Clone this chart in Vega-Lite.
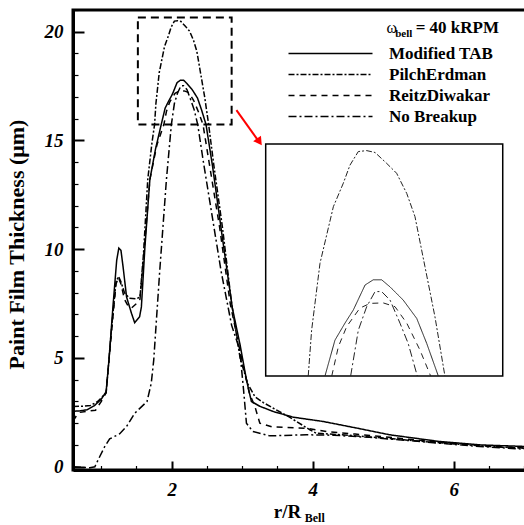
{
  "$schema": "https://vega.github.io/schema/vega-lite/v6.json",
  "width": 453,
  "height": 460,
  "autosize": {"type": "none"},
  "padding": {"left": 73, "top": 10, "right": 0, "bottom": 55},
  "background": "white",
  "config": {"view": {"stroke": "black", "strokeWidth": 3}, "font": "Liberation Serif"},
  "datasets": {
    "curves": [
      {"model": "Modified TAB", "x": 0.6, "y": 2.55}, {"model": "Modified TAB", "x": 0.7, "y": 2.57}, {"model": "Modified TAB", "x": 0.8, "y": 2.62}, {"model": "Modified TAB", "x": 0.9, "y": 2.8}, {"model": "Modified TAB", "x": 1.0, "y": 3.1}, {"model": "Modified TAB", "x": 1.07, "y": 3.45}, {"model": "Modified TAB", "x": 1.11, "y": 4.9}, {"model": "Modified TAB", "x": 1.17, "y": 7.5}, {"model": "Modified TAB", "x": 1.22, "y": 9.5}, {"model": "Modified TAB", "x": 1.25, "y": 10.05}, {"model": "Modified TAB", "x": 1.28, "y": 9.95}, {"model": "Modified TAB", "x": 1.31, "y": 9.2}, {"model": "Modified TAB", "x": 1.36, "y": 7.8}, {"model": "Modified TAB", "x": 1.43, "y": 7.05}, {"model": "Modified TAB", "x": 1.475, "y": 6.62}, {"model": "Modified TAB", "x": 1.545, "y": 6.9}, {"model": "Modified TAB", "x": 1.57, "y": 7.35}, {"model": "Modified TAB", "x": 1.62, "y": 10.1}, {"model": "Modified TAB", "x": 1.69, "y": 13.2}, {"model": "Modified TAB", "x": 1.77, "y": 14.6}, {"model": "Modified TAB", "x": 1.851, "y": 15.73}, {"model": "Modified TAB", "x": 1.907, "y": 16.49}, {"model": "Modified TAB", "x": 1.963, "y": 16.85}, {"model": "Modified TAB", "x": 2.01, "y": 17.13}, {"model": "Modified TAB", "x": 2.076, "y": 17.66}, {"model": "Modified TAB", "x": 2.122, "y": 17.77}, {"model": "Modified TAB", "x": 2.169, "y": 17.77}, {"model": "Modified TAB", "x": 2.216, "y": 17.62}, {"model": "Modified TAB", "x": 2.29, "y": 17.34}, {"model": "Modified TAB", "x": 2.366, "y": 16.95}, {"model": "Modified TAB", "x": 2.422, "y": 16.42}, {"model": "Modified TAB", "x": 2.487, "y": 15.73}, {"model": "Modified TAB", "x": 2.58, "y": 13.8}, {"model": "Modified TAB", "x": 2.72, "y": 10.5}, {"model": "Modified TAB", "x": 2.86, "y": 7.3}, {"model": "Modified TAB", "x": 2.97, "y": 5.6}, {"model": "Modified TAB", "x": 3.06, "y": 4.0}, {"model": "Modified TAB", "x": 3.13, "y": 3.0}, {"model": "Modified TAB", "x": 3.25, "y": 2.78}, {"model": "Modified TAB", "x": 3.44, "y": 2.54}, {"model": "Modified TAB", "x": 3.72, "y": 2.28}, {"model": "Modified TAB", "x": 4.15, "y": 2.08}, {"model": "Modified TAB", "x": 4.62, "y": 1.78}, {"model": "Modified TAB", "x": 5.09, "y": 1.47}, {"model": "Modified TAB", "x": 5.8, "y": 1.16}, {"model": "Modified TAB", "x": 6.4, "y": 1.0}, {"model": "Modified TAB", "x": 7.03, "y": 0.93},
      {"model": "PilchErdman", "x": 0.6, "y": 2.77}, {"model": "PilchErdman", "x": 0.75, "y": 2.78}, {"model": "PilchErdman", "x": 0.85, "y": 2.82}, {"model": "PilchErdman", "x": 0.95, "y": 3.0}, {"model": "PilchErdman", "x": 1.07, "y": 3.4}, {"model": "PilchErdman", "x": 1.15, "y": 6.5}, {"model": "PilchErdman", "x": 1.21, "y": 8.5}, {"model": "PilchErdman", "x": 1.245, "y": 8.75}, {"model": "PilchErdman", "x": 1.28, "y": 8.5}, {"model": "PilchErdman", "x": 1.33, "y": 8.0}, {"model": "PilchErdman", "x": 1.4, "y": 7.75}, {"model": "PilchErdman", "x": 1.5, "y": 7.72}, {"model": "PilchErdman", "x": 1.55, "y": 7.8}, {"model": "PilchErdman", "x": 1.6, "y": 9.8}, {"model": "PilchErdman", "x": 1.66, "y": 13.2}, {"model": "PilchErdman", "x": 1.72, "y": 14.9}, {"model": "PilchErdman", "x": 1.757, "y": 15.73}, {"model": "PilchErdman", "x": 1.776, "y": 16.7}, {"model": "PilchErdman", "x": 1.823, "y": 18.12}, {"model": "PilchErdman", "x": 1.898, "y": 19.32}, {"model": "PilchErdman", "x": 1.954, "y": 19.82}, {"model": "PilchErdman", "x": 1.991, "y": 20.2}, {"model": "PilchErdman", "x": 2.038, "y": 20.49}, {"model": "PilchErdman", "x": 2.085, "y": 20.51}, {"model": "PilchErdman", "x": 2.132, "y": 20.47}, {"model": "PilchErdman", "x": 2.197, "y": 20.24}, {"model": "PilchErdman", "x": 2.253, "y": 20.03}, {"model": "PilchErdman", "x": 2.31, "y": 19.6}, {"model": "PilchErdman", "x": 2.356, "y": 19.11}, {"model": "PilchErdman", "x": 2.412, "y": 18.05}, {"model": "PilchErdman", "x": 2.468, "y": 16.99}, {"model": "PilchErdman", "x": 2.524, "y": 15.73}, {"model": "PilchErdman", "x": 2.6, "y": 13.8}, {"model": "PilchErdman", "x": 2.72, "y": 11.0}, {"model": "PilchErdman", "x": 2.85, "y": 7.5}, {"model": "PilchErdman", "x": 2.97, "y": 5.0}, {"model": "PilchErdman", "x": 3.08, "y": 3.8}, {"model": "PilchErdman", "x": 3.18, "y": 3.22}, {"model": "PilchErdman", "x": 3.3, "y": 2.95}, {"model": "PilchErdman", "x": 3.44, "y": 2.69}, {"model": "PilchErdman", "x": 3.67, "y": 2.28}, {"model": "PilchErdman", "x": 3.96, "y": 1.7}, {"model": "PilchErdman", "x": 4.05, "y": 1.54}, {"model": "PilchErdman", "x": 4.5, "y": 1.45}, {"model": "PilchErdman", "x": 5.0, "y": 1.32}, {"model": "PilchErdman", "x": 5.5, "y": 1.18}, {"model": "PilchErdman", "x": 6.0, "y": 1.05}, {"model": "PilchErdman", "x": 6.5, "y": 0.93}, {"model": "PilchErdman", "x": 7.03, "y": 0.85},
      {"model": "ReitzDiwakar", "x": 0.6, "y": 2.1}, {"model": "ReitzDiwakar", "x": 0.65, "y": 2.35}, {"model": "ReitzDiwakar", "x": 0.7, "y": 2.5}, {"model": "ReitzDiwakar", "x": 0.8, "y": 2.55}, {"model": "ReitzDiwakar", "x": 0.92, "y": 2.6}, {"model": "ReitzDiwakar", "x": 1.0, "y": 3.0}, {"model": "ReitzDiwakar", "x": 1.07, "y": 3.4}, {"model": "ReitzDiwakar", "x": 1.15, "y": 6.3}, {"model": "ReitzDiwakar", "x": 1.21, "y": 8.4}, {"model": "ReitzDiwakar", "x": 1.245, "y": 8.7}, {"model": "ReitzDiwakar", "x": 1.28, "y": 8.4}, {"model": "ReitzDiwakar", "x": 1.33, "y": 7.7}, {"model": "ReitzDiwakar", "x": 1.38, "y": 7.4}, {"model": "ReitzDiwakar", "x": 1.43, "y": 7.3}, {"model": "ReitzDiwakar", "x": 1.5, "y": 7.5}, {"model": "ReitzDiwakar", "x": 1.55, "y": 7.7}, {"model": "ReitzDiwakar", "x": 1.61, "y": 10.0}, {"model": "ReitzDiwakar", "x": 1.69, "y": 13.2}, {"model": "ReitzDiwakar", "x": 1.79, "y": 14.8}, {"model": "ReitzDiwakar", "x": 1.889, "y": 15.73}, {"model": "ReitzDiwakar", "x": 1.926, "y": 16.35}, {"model": "ReitzDiwakar", "x": 1.973, "y": 16.78}, {"model": "ReitzDiwakar", "x": 2.047, "y": 17.17}, {"model": "ReitzDiwakar", "x": 2.104, "y": 17.27}, {"model": "ReitzDiwakar", "x": 2.178, "y": 17.28}, {"model": "ReitzDiwakar", "x": 2.244, "y": 17.2}, {"model": "ReitzDiwakar", "x": 2.31, "y": 16.85}, {"model": "ReitzDiwakar", "x": 2.384, "y": 16.28}, {"model": "ReitzDiwakar", "x": 2.444, "y": 15.73}, {"model": "ReitzDiwakar", "x": 2.53, "y": 14.0}, {"model": "ReitzDiwakar", "x": 2.68, "y": 11.0}, {"model": "ReitzDiwakar", "x": 2.83, "y": 7.5}, {"model": "ReitzDiwakar", "x": 2.97, "y": 5.3}, {"model": "ReitzDiwakar", "x": 3.1, "y": 3.4}, {"model": "ReitzDiwakar", "x": 3.18, "y": 2.77}, {"model": "ReitzDiwakar", "x": 3.25, "y": 2.0}, {"model": "ReitzDiwakar", "x": 3.43, "y": 1.83}, {"model": "ReitzDiwakar", "x": 3.91, "y": 1.77}, {"model": "ReitzDiwakar", "x": 4.2, "y": 1.62}, {"model": "ReitzDiwakar", "x": 4.6, "y": 1.5}, {"model": "ReitzDiwakar", "x": 5.0, "y": 1.38}, {"model": "ReitzDiwakar", "x": 5.5, "y": 1.22}, {"model": "ReitzDiwakar", "x": 6.0, "y": 1.08}, {"model": "ReitzDiwakar", "x": 6.5, "y": 0.95}, {"model": "ReitzDiwakar", "x": 7.03, "y": 0.86},
      {"model": "No Breakup", "x": 0.6, "y": 0.0}, {"model": "No Breakup", "x": 0.84, "y": -0.05}, {"model": "No Breakup", "x": 0.91, "y": 0.0}, {"model": "No Breakup", "x": 0.98, "y": 0.47}, {"model": "No Breakup", "x": 1.05, "y": 0.93}, {"model": "No Breakup", "x": 1.12, "y": 1.28}, {"model": "No Breakup", "x": 1.26, "y": 1.51}, {"model": "No Breakup", "x": 1.36, "y": 1.85}, {"model": "No Breakup", "x": 1.475, "y": 2.46}, {"model": "No Breakup", "x": 1.65, "y": 3.0}, {"model": "No Breakup", "x": 1.71, "y": 3.84}, {"model": "No Breakup", "x": 1.745, "y": 4.9}, {"model": "No Breakup", "x": 1.83, "y": 9.0}, {"model": "No Breakup", "x": 1.925, "y": 13.2}, {"model": "No Breakup", "x": 1.995, "y": 15.73}, {"model": "No Breakup", "x": 2.038, "y": 16.7}, {"model": "No Breakup", "x": 2.085, "y": 17.2}, {"model": "No Breakup", "x": 2.132, "y": 17.52}, {"model": "No Breakup", "x": 2.169, "y": 17.52}, {"model": "No Breakup", "x": 2.216, "y": 17.34}, {"model": "No Breakup", "x": 2.272, "y": 16.85}, {"model": "No Breakup", "x": 2.318, "y": 16.42}, {"model": "No Breakup", "x": 2.369, "y": 15.73}, {"model": "No Breakup", "x": 2.45, "y": 14.0}, {"model": "No Breakup", "x": 2.55, "y": 12.0}, {"model": "No Breakup", "x": 2.7, "y": 9.0}, {"model": "No Breakup", "x": 2.85, "y": 6.5}, {"model": "No Breakup", "x": 2.965, "y": 5.37}, {"model": "No Breakup", "x": 3.02, "y": 3.5}, {"model": "No Breakup", "x": 3.06, "y": 2.0}, {"model": "No Breakup", "x": 3.15, "y": 1.62}, {"model": "No Breakup", "x": 3.39, "y": 1.42}, {"model": "No Breakup", "x": 3.91, "y": 1.47}, {"model": "No Breakup", "x": 4.3, "y": 1.45}, {"model": "No Breakup", "x": 4.8, "y": 1.35}, {"model": "No Breakup", "x": 5.3, "y": 1.22}, {"model": "No Breakup", "x": 5.8, "y": 1.08}, {"model": "No Breakup", "x": 6.3, "y": 0.95}, {"model": "No Breakup", "x": 7.03, "y": 0.8}
    ]
  },
  "layer": [
    {
      "resolve": {"axis": {"x": "independent", "y": "independent"}},
      "layer": [
        {
          "data": {"name": "curves"},
          "mark": {"type": "line", "strokeWidth": 1.5, "color": "black", "clip": true},
          "encoding": {
            "x": {"field": "x", "type": "quantitative",
              "scale": {"domain": [0.6, 7.025], "nice": false, "zero": false},
              "axis": {"orient": "bottom", "values": [2, 4, 6], "format": "d",
                "title": "r/R", "titleFont": "Liberation Serif", "titleFontSize": 19, "titleFontWeight": "bold", "titleColor": "black",
                "titleX": 214, "titleY": 47, "titleBaseline": "alphabetic", "titleAlign": "center",
                "labelFont": "Liberation Serif", "labelFontStyle": "italic", "labelFontWeight": "bold", "labelColor": "black", "labelFontSize": 19,
                "labelPadding": 19, "labelFlush": false, "labelOverlap": false,
                "domainColor": "black", "domainWidth": 3, "tickColor": "black", "tickSize": -9, "tickWidth": 2,
                "grid": false}},
            "y": {"field": "y", "type": "quantitative",
              "scale": {"domain": [-0.15, 21], "nice": false, "zero": false},
              "axis": {"orient": "left", "values": [0, 5, 10, 15, 20], "format": "d",
                "title": "Paint Film Thickness (μm)", "titleFont": "Liberation Serif", "titleFontSize": 22, "titleFontWeight": "bold", "titleColor": "black",
                "titleX": -57, "titleY": 234, "titleAlign": "center", "titleBaseline": "middle", "titleAngle": -90,
                "labelFont": "Liberation Serif", "labelFontStyle": "italic", "labelFontWeight": "bold", "labelColor": "black", "labelFontSize": 19,
                "labelPadding": 21, "labelFlush": false, "labelOverlap": false,
                "domainColor": "black", "domainWidth": 3, "tickColor": "black", "tickSize": -11, "tickWidth": 2,
                "grid": false}},
            "strokeDash": {"field": "model", "type": "nominal",
              "scale": {"domain": ["Modified TAB", "PilchErdman", "ReitzDiwakar", "No Breakup"],
                "range": [[1, 0], [6, 2, 2, 2], [6, 5], [8, 3, 2, 3]]},
              "legend": {"orient": "none", "legendX": 249, "legendY": 35, "title": null,
                "symbolType": "M-6,0L6,0", "symbolSize": 196, "symbolStrokeWidth": 1.5, "symbolStrokeColor": "black",
                "labelFont": "Liberation Serif", "labelFontWeight": "bold", "labelFontSize": 17, "labelColor": "black",
                "labelOffset": 50, "rowPadding": 3, "padding": 0}}
          }
        },
        {
          "data": {"values": [{}]},
          "mark": {"type": "rect", "fillOpacity": 0, "stroke": "black", "strokeWidth": 2, "strokeDash": [8, 5]},
          "encoding": {
            "x": {"datum": 1.52, "axis": {"orient": "bottom", "values": [1, 1.5, 2.5, 3, 3.5, 4.5, 5, 5.5, 6.5, 7], "labels": false, "domain": false, "title": null, "grid": false, "tickColor": "black", "tickSize": -4.5, "tickWidth": 1.2}},
            "x2": {"datum": 2.85},
            "y": {"datum": 20.65, "axis": {"orient": "left", "values": [1, 2, 3, 4, 6, 7, 8, 9, 11, 12, 13, 14, 16, 17, 18, 19, 21], "labels": false, "domain": false, "title": null, "grid": false, "tickColor": "black", "tickSize": -5, "tickWidth": 1.2}},
            "y2": {"datum": 15.73}}
        },
        {
          "data": {"values": [{}]},
          "mark": {"type": "rect", "fill": "white", "stroke": "black", "strokeWidth": 1.5},
          "encoding": {"x": {"datum": 3.333, "axis": null}, "x2": {"datum": 6.695}, "y": {"datum": 14.84, "axis": null}, "y2": {"datum": 4.17}}
        },
        {
          "data": {"values": [{}]},
          "mark": {"type": "rule", "color": "red", "strokeWidth": 2},
          "encoding": {"x": {"datum": 2.918, "axis": null}, "y": {"datum": 16.4, "axis": null}, "x2": {"datum": 3.23}, "y2": {"datum": 14.98}}
        },
        {
          "data": {"values": [{}]},
          "mark": {"type": "point", "shape": "triangle-up", "filled": true, "color": "red", "size": 90, "angle": 145, "opacity": 1},
          "encoding": {"x": {"datum": 3.244, "axis": null}, "y": {"datum": 14.94, "axis": null}}
        },
        {
          "data": {"values": [{}]},
          "mark": {"type": "text", "text": "ω", "font": "Liberation Serif", "fontSize": 16, "align": "left", "baseline": "alphabetic", "color": "black"},
          "encoding": {"x": {"datum": 5.045, "axis": null}, "y": {"datum": 19.93, "axis": null}}
        },
        {
          "data": {"values": [{}]},
          "mark": {"type": "text", "text": "bell", "font": "Liberation Serif", "fontSize": 11, "fontWeight": "bold", "align": "left", "baseline": "alphabetic", "color": "black"},
          "encoding": {"x": {"datum": 5.17, "axis": null}, "y": {"datum": 19.74, "axis": null}}
        },
        {
          "data": {"values": [{}]},
          "mark": {"type": "text", "text": "= 40 kRPM", "font": "Liberation Serif", "fontSize": 17, "fontWeight": "bold", "align": "left", "baseline": "alphabetic", "color": "black"},
          "encoding": {"x": {"datum": 5.46, "axis": null}, "y": {"datum": 19.93, "axis": null}}
        },
        {
          "data": {"values": [{}]},
          "mark": {"type": "text", "text": "Bell", "font": "Liberation Serif", "fontSize": 12, "fontWeight": "bold", "align": "left", "baseline": "alphabetic", "color": "black"},
          "encoding": {"x": {"datum": 3.887, "axis": null}, "y": {"datum": -2.54, "axis": null}}
        }
      ]
    },
    {
      "data": {"name": "curves"},
      "transform": [{"filter": "datum.y >= 15.7 && datum.x >= 1.5 && datum.x <= 2.9"}],
      "mark": {"type": "line", "strokeWidth": 1, "color": "#222222"},
      "encoding": {
        "x": {"field": "x", "type": "quantitative", "scale": {"domain": [1.52, 2.85], "range": [193, 430], "nice": false, "zero": false}, "axis": null},
        "y": {"field": "y", "type": "quantitative", "scale": {"domain": [15.73, 20.65], "range": [366, 134], "nice": false, "zero": false}, "axis": null},
        "strokeDash": {"field": "model", "type": "nominal",
          "scale": {"domain": ["Modified TAB", "PilchErdman", "ReitzDiwakar", "No Breakup"], "range": [[1, 0], [6, 2, 2, 2], [6, 5], [8, 3, 2, 3]]},
          "legend": null}
      }
    }
  ],
  "resolve": {"scale": {"x": "independent", "y": "independent"}}
}
